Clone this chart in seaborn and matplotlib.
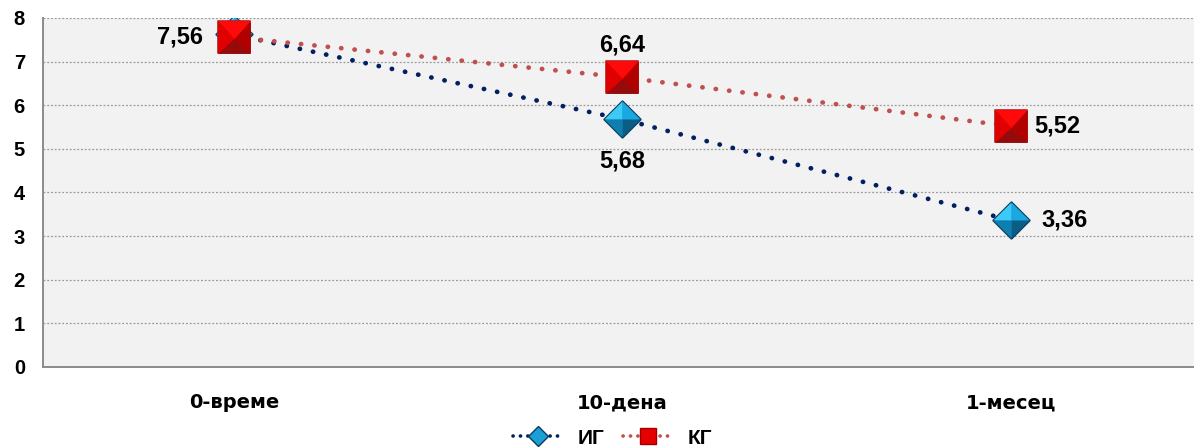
import matplotlib
matplotlib.use("Agg")
import matplotlib.pyplot as plt
from matplotlib.path import Path
from matplotlib.lines import Line2D
import seaborn as sns
import pandas as pd
import numpy as np

categories = ["0-време", "10-дена", "1-месец"]
ig_values = [7.62, 5.68, 3.36]
kg_values = [7.56, 6.64, 5.52]
ig_labels = ["", "5,68", "3,36"]
kg_labels = ["7,56", "6,64", "5,52"]
series_names = ["ИГ", "КГ"]
y_ticks = [0, 1, 2, 3, 4, 5, 6, 7, 8]

sns.set_theme(style="white")
plt.rcParams['font.family'] = ['Liberation Sans', 'DejaVu Sans']
plt.rcParams['font.weight'] = 'bold'
plt.rcParams['text.color'] = 'black'

df = pd.DataFrame({
    "x": list(range(len(categories))) * 2,
    "value": ig_values + kg_values,
    "series": [series_names[0]] * 3 + [series_names[1]] * 3,
})

fig = plt.figure(figsize=(11.94, 4.48), dpi=100)
ax = fig.add_axes([0.036, 0.181, 0.973, 0.779])
ax.set_facecolor("#F2F2F2")

line_colors = {"ИГ": "#002060", "КГ": "#C0504D"}
sns.lineplot(data=df, x="x", y="value", hue="series", palette=line_colors,
             ax=ax, legend=False, linewidth=3.4)
for ln in ax.lines:
    ln.set_linestyle((0, (0.05, 2.8)))
    ln.set_dash_capstyle("round")


def poly(verts):
    v = list(verts) + [verts[0]]
    codes = [Path.MOVETO] + [Path.LINETO] * (len(verts) - 1) + [Path.CLOSEPOLY]
    return Path(v, codes)


xs = np.arange(len(categories))

# diamond (ИГ) with bevel faces
D_MS = 26
T, R, B, L, C = (0, 1), (1, 0), (0, -1), (-1, 0), (0, 0)
ax.plot(xs, ig_values, linestyle="none", marker=poly([T, R, B, L]), markersize=D_MS,
        markerfacecolor="#1A9FD6", markeredgecolor="#0B3B5C", markeredgewidth=1.6, zorder=5)
for face, col in [([L, T, C], "#3CCBF6"), ([T, R, C], "#1BA8E0"),
                  ([L, B, C], "#0E7EB0"), ([B, R, C], "#0A5E86")]:
    ax.plot(xs, ig_values, linestyle="none", marker=poly(face), markersize=D_MS,
            markerfacecolor=col, markeredgewidth=0, zorder=5.1)

# square (КГ) with bevel faces
S_MS = 23.5
tl, tr, br, bl = (-1, 1), (1, 1), (1, -1), (-1, -1)
c2 = (0, -0.1)
ax.plot(xs, kg_values, linestyle="none", marker=poly([tl, tr, br, bl]), markersize=S_MS,
        markerfacecolor="#E00000", markeredgecolor="#B02020", markeredgewidth=1.2, zorder=6)
for face, col in [([tl, tr, c2], "#FF0A0A"), ([tl, bl, c2], "#E00000"),
                  ([tr, br, c2], "#B00000"), ([bl, br, c2], "#950A0A")]:
    ax.plot(xs, kg_values, linestyle="none", marker=poly(face), markersize=S_MS,
            markerfacecolor=col, markeredgewidth=0, zorder=6.1)

fs_lab = 17
lab_font = dict(fontsize=fs_lab, fontweight="bold", color="black")
ax.annotate(kg_labels[0], (xs[0], kg_values[0]), xytext=(-22, 0), textcoords="offset points",
            ha="right", va="center", **lab_font)
ax.annotate(kg_labels[1], (xs[1], kg_values[1]), xytext=(0, 15), textcoords="offset points",
            ha="center", va="bottom", **lab_font)
ax.annotate(kg_labels[2], (xs[2], kg_values[2]), xytext=(17, 0), textcoords="offset points",
            ha="left", va="center", **lab_font)
ax.annotate(ig_labels[1], (xs[1], ig_values[1]), xytext=(0, -22), textcoords="offset points",
            ha="center", va="top", **lab_font)
ax.annotate(ig_labels[2], (xs[2], ig_values[2]), xytext=(22, 0), textcoords="offset points",
            ha="left", va="center", **lab_font)

ax.set_ylim(0, 8)
ax.set_xlim(-0.492, 2.5)
ax.set_yticks(y_ticks)
ax.set_yticklabels([str(t) for t in y_ticks], fontsize=14.5, fontweight="bold", color="black")
ax.set_xticks(xs)
ax.set_xticklabels(categories, fontsize=14, fontweight="bold", color="black",
                   family=["DejaVu Sans"])
ax.tick_params(axis="x", which="major", length=0, pad=19)
ax.set_xticks([-0.492, 0.5, 1.5], minor=True)
ax.tick_params(axis="x", which="minor", length=6, color="#888888", direction="out")
ax.tick_params(axis="y", length=7, color="#888888", direction="out", pad=6)
ax.set_xlabel("")
ax.set_ylabel("")
ax.grid(axis="y", linestyle=(0, (1.5, 1.5)), color="#999999", linewidth=0.9)
ax.set_axisbelow(True)
for s in ["top", "right"]:
    ax.spines[s].set_visible(False)
for s in ["left", "bottom"]:
    ax.spines[s].set_color("#8C8C8C")
    ax.spines[s].set_linewidth(1.4)

handles = [
    Line2D([0], [0], color=line_colors["ИГ"], linewidth=2.6, linestyle=(0, (0.05, 2.0)),
           dash_capstyle="round", marker="D", markersize=10,
           markerfacecolor="#1A9FD6", markeredgecolor="#0B3B5C"),
    Line2D([0], [0], color=line_colors["КГ"], linewidth=2.6, linestyle=(0, (0.05, 2.0)),
           dash_capstyle="round", marker="s", markersize=12,
           markerfacecolor="#E60000", markeredgecolor="#A00000"),
]
fig.legend(handles, series_names, loc="center", bbox_to_anchor=(0.513, 0.022), ncol=2,
           frameon=False, prop={"size": 15, "weight": "bold"}, handlelength=2.4,
           columnspacing=0.9, handletextpad=0.7)

fig.savefig("out.png", dpi=100)
